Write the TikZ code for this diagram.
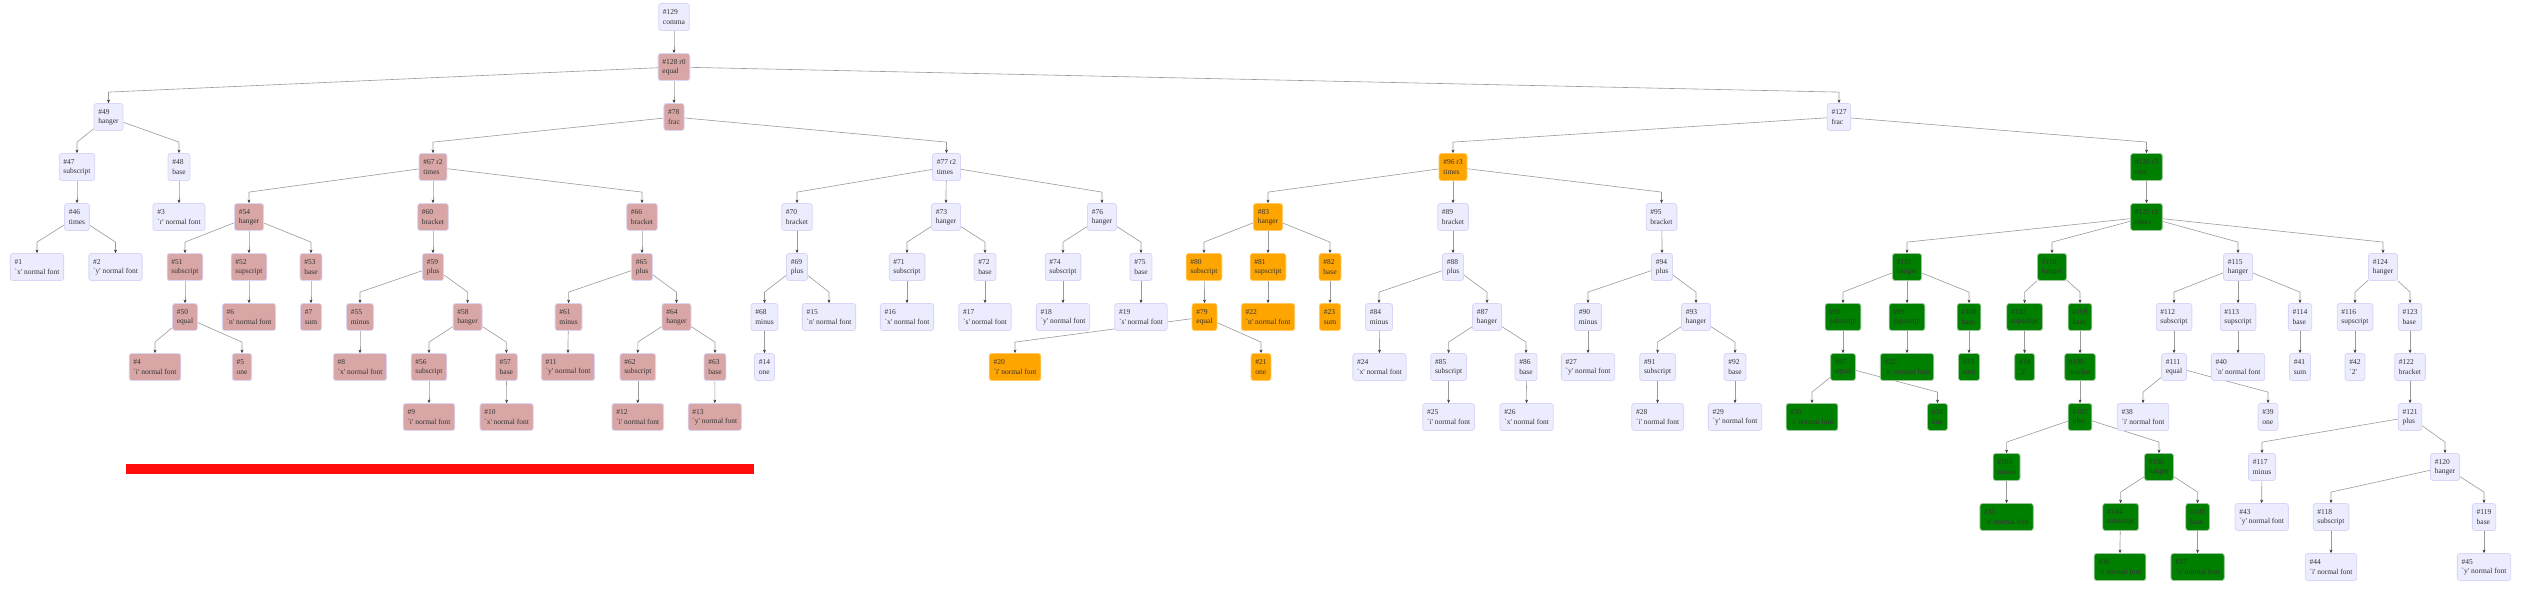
\documentclass[tikz,border=0pt]{standalone}
\usepackage{fontspec}
\setmainfont{Liberation Serif}
\usetikzlibrary{arrows.meta, calc, backgrounds}
\definecolor{inktext}{HTML}{333333}
\definecolor{boxlit}{HTML}{ECECFF}
\definecolor{boxred}{HTML}{D9A6A6}
\definecolor{boxorange}{HTML}{FFA500}
\definecolor{boxgreen}{HTML}{008000}
\definecolor{boxline}{HTML}{DAD5F7}
\definecolor{greenline}{HTML}{9CC79C}
\definecolor{wire}{HTML}{9A9A9A}
\definecolor{barred}{HTML}{FF0D0D}
\newcommand{\tick}[1]{\textasciigrave#1\textquotesingle}
\newcommand{\tnode}[5]{%
  \node[#4] (n#1) at (#2,{17+50*#3}) {#5};}
\newcommand{\link}[2]{%
  \draw[wireline] (n#1) -- ($(n#2.north)+(0,-11)$) -- (n#2.north);}
\tikzset{
  tbox/.style={draw=boxline, line width=0.8pt, rounded corners=2.5pt,
    align=left, inner xsep=4.3pt, inner ysep=2pt, minimum height=27pt,
    text=inktext, font=\fontsize{7.5}{9.3}\selectfont},
  litbox/.style={tbox, fill=boxlit},
  redbox/.style={tbox, fill=boxred},
  orabox/.style={tbox, fill=boxorange, draw=boxorange!60},
  grnbox/.style={tbox, fill=boxgreen, draw=greenline},
  wireline/.style={wire, line width=0.6pt, -{Stealth[length=3.5pt, width=3pt, inktext]}}
}

\begin{document}
\begin{tikzpicture}[x=1pt, y=-1pt]
  \useasboundingbox (0,0) rectangle (2527,597);
  % rows 0--2
  \tnode{129}{674}{0}{litbox}{\#129\\comma}
  \tnode{128}{674}{1}{redbox}{\#128 r0\\equal}
  \tnode{49}{108.5}{2}{litbox}{\#49\\hanger}
  \tnode{78}{674}{2}{redbox}{\#78\\frac}
  \tnode{127}{1839}{2}{litbox}{\#127\\frac}
  % row 3
  \tnode{47}{77}{3}{litbox}{\#47\\subscript}
  \tnode{48}{179}{3}{litbox}{\#48\\base}
  \tnode{67}{433}{3}{redbox}{\#67 r2\\times}
  \tnode{77}{946.5}{3}{litbox}{\#77 r2\\times}
  \tnode{96}{1453}{3}{orabox}{\#96 r3\\times}
  \tnode{126}{2146.5}{3}{grnbox}{\#126 r3\\root}
  % row 4
  \tnode{46}{77}{4}{litbox}{\#46\\times}
  \tnode{3}{179}{4}{litbox}{\#3\\\tick{r} normal font}
  \tnode{54}{249}{4}{redbox}{\#54\\hanger}
  \tnode{60}{433}{4}{redbox}{\#60\\bracket}
  \tnode{66}{642}{4}{redbox}{\#66\\bracket}
  \tnode{70}{797}{4}{litbox}{\#70\\bracket}
  \tnode{73}{946}{4}{litbox}{\#73\\hanger}
  \tnode{76}{1102}{4}{litbox}{\#76\\hanger}
  \tnode{83}{1268}{4}{orabox}{\#83\\hanger}
  \tnode{89}{1453}{4}{litbox}{\#89\\bracket}
  \tnode{95}{1661.5}{4}{litbox}{\#95\\bracket}
  \tnode{125}{2146.5}{4}{grnbox}{\#125 r2\\times}
  % row 5
  \tnode{1}{37}{5}{litbox}{\#1\\\tick{x} normal font}
  \tnode{2}{115.5}{5}{litbox}{\#2\\\tick{y} normal font}
  \tnode{51}{185}{5}{redbox}{\#51\\subscript}
  \tnode{52}{249}{5}{redbox}{\#52\\supscript}
  \tnode{53}{311}{5}{redbox}{\#53\\base}
  \tnode{59}{433}{5}{redbox}{\#59\\plus}
  \tnode{65}{642}{5}{redbox}{\#65\\plus}
  \tnode{69}{797}{5}{litbox}{\#69\\plus}
  \tnode{71}{907}{5}{litbox}{\#71\\subscript}
  \tnode{72}{985}{5}{litbox}{\#72\\base}
  \tnode{74}{1063}{5}{litbox}{\#74\\subscript}
  \tnode{75}{1141}{5}{litbox}{\#75\\base}
  \tnode{80}{1204}{5}{orabox}{\#80\\subscript}
  \tnode{81}{1268}{5}{orabox}{\#81\\supscript}
  \tnode{82}{1330}{5}{orabox}{\#82\\base}
  \tnode{88}{1453}{5}{litbox}{\#88\\plus}
  \tnode{94}{1662}{5}{litbox}{\#94\\plus}
  \tnode{101}{1907}{5}{grnbox}{\#101\\hanger}
  \tnode{110}{2052}{5}{grnbox}{\#110\\hanger}
  \tnode{115}{2238}{5}{litbox}{\#115\\hanger}
  \tnode{124}{2383}{5}{litbox}{\#124\\hanger}
  % row 6
  \tnode{50}{185}{6}{redbox}{\#50\\equal}
  \tnode{6}{249}{6}{redbox}{\#6\\\tick{n} normal font}
  \tnode{7}{311}{6}{redbox}{\#7\\sum}
  \tnode{55}{360}{6}{redbox}{\#55\\minus}
  \tnode{58}{467.6}{6}{redbox}{\#58\\hanger}
  \tnode{61}{568.6}{6}{redbox}{\#61\\minus}
  \tnode{64}{676.5}{6}{redbox}{\#64\\hanger}
  \tnode{68}{764.5}{6}{litbox}{\#68\\minus}
  \tnode{15}{829}{6}{litbox}{\#15\\\tick{n} normal font}
  \tnode{16}{907}{6}{litbox}{\#16\\\tick{x} normal font}
  \tnode{17}{985}{6}{litbox}{\#17\\\tick{s} normal font}
  \tnode{18}{1063}{6}{litbox}{\#18\\\tick{y} normal font}
  \tnode{19}{1141}{6}{litbox}{\#19\\\tick{s} normal font}
  \tnode{79}{1204.5}{6}{orabox}{\#79\\equal}
  \tnode{22}{1268}{6}{orabox}{\#22\\\tick{n} normal font}
  \tnode{23}{1330}{6}{orabox}{\#23\\sum}
  \tnode{84}{1379}{6}{litbox}{\#84\\minus}
  \tnode{87}{1487}{6}{litbox}{\#87\\hanger}
  \tnode{90}{1588}{6}{litbox}{\#90\\minus}
  \tnode{93}{1696}{6}{litbox}{\#93\\hanger}
  \tnode{98}{1843}{6}{grnbox}{\#98\\subscript}
  \tnode{99}{1907}{6}{grnbox}{\#99\\supscript}
  \tnode{100}{1969}{6}{grnbox}{\#100\\base}
  \tnode{102}{2024.6}{6}{grnbox}{\#102\\supscript}
  \tnode{109}{2080}{6}{grnbox}{\#109\\base}
  \tnode{112}{2174}{6}{litbox}{\#112\\subscript}
  \tnode{113}{2238}{6}{litbox}{\#113\\supscript}
  \tnode{114}{2300}{6}{litbox}{\#114\\base}
  \tnode{116}{2355}{6}{litbox}{\#116\\supscript}
  \tnode{123}{2410}{6}{litbox}{\#123\\base}
  % row 7
  \tnode{4}{155}{7}{redbox}{\#4\\\tick{i} normal font}
  \tnode{5}{242}{7}{redbox}{\#5\\one}
  \tnode{8}{360}{7}{redbox}{\#8\\\tick{x} normal font}
  \tnode{56}{429}{7}{redbox}{\#56\\subscript}
  \tnode{57}{506.4}{7}{redbox}{\#57\\base}
  \tnode{11}{568}{7}{redbox}{\#11\\\tick{y} normal font}
  \tnode{62}{637.8}{7}{redbox}{\#62\\subscript}
  \tnode{63}{715}{7}{redbox}{\#63\\base}
  \tnode{14}{764.5}{7}{litbox}{\#14\\one}
  \tnode{20}{1015}{7}{orabox}{\#20\\\tick{i} normal font}
  \tnode{21}{1261}{7}{orabox}{\#21\\one}
  \tnode{24}{1379.5}{7}{litbox}{\#24\\\tick{x} normal font}
  \tnode{85}{1448.6}{7}{litbox}{\#85\\subscript}
  \tnode{86}{1526}{7}{litbox}{\#86\\base}
  \tnode{27}{1588}{7}{litbox}{\#27\\\tick{y} normal font}
  \tnode{91}{1657.6}{7}{litbox}{\#91\\subscript}
  \tnode{92}{1735}{7}{litbox}{\#92\\base}
  \tnode{97}{1843}{7}{grnbox}{\#97\\equal}
  \tnode{32}{1907}{7}{grnbox}{\#32\\\tick{n} normal font}
  \tnode{33}{1969}{7}{grnbox}{\#33\\sum}
  \tnode{34}{2024.6}{7}{grnbox}{\#34\\\tick{2}}
  \tnode{108}{2080}{7}{grnbox}{\#108\\bracket}
  \tnode{111}{2174}{7}{litbox}{\#111\\equal}
  \tnode{40}{2238}{7}{litbox}{\#40\\\tick{n} normal font}
  \tnode{41}{2300}{7}{litbox}{\#41\\sum}
  \tnode{42}{2355}{7}{litbox}{\#42\\\tick{2}}
  \tnode{122}{2410}{7}{litbox}{\#122\\bracket}
  % row 8
  \tnode{9}{429}{8}{redbox}{\#9\\\tick{i} normal font}
  \tnode{10}{506.6}{8}{redbox}{\#10\\\tick{x} normal font}
  \tnode{12}{637.8}{8}{redbox}{\#12\\\tick{i} normal font}
  \tnode{13}{714.8}{8}{redbox}{\#13\\\tick{y} normal font}
  \tnode{25}{1448.6}{8}{litbox}{\#25\\\tick{i} normal font}
  \tnode{26}{1526.6}{8}{litbox}{\#26\\\tick{x} normal font}
  \tnode{28}{1657.6}{8}{litbox}{\#28\\\tick{i} normal font}
  \tnode{29}{1735}{8}{litbox}{\#29\\\tick{y} normal font}
  \tnode{30}{1812}{8}{grnbox}{\#30\\\tick{i} normal font}
  \tnode{31}{1937.5}{8}{grnbox}{\#31\\one}
  \tnode{107}{2080}{8}{grnbox}{\#107\\plus}
  \tnode{38}{2143}{8}{litbox}{\#38\\\tick{i} normal font}
  \tnode{39}{2268}{8}{litbox}{\#39\\one}
  \tnode{121}{2410}{8}{litbox}{\#121\\plus}
  % rows 9--11
  \tnode{103}{2006.6}{9}{grnbox}{\#103\\minus}
  \tnode{106}{2159}{9}{grnbox}{\#106\\hanger}
  \tnode{117}{2262}{9}{litbox}{\#117\\minus}
  \tnode{120}{2445}{9}{litbox}{\#120\\hanger}
  \tnode{35}{2006.6}{10}{grnbox}{\#35\\\tick{x} normal font}
  \tnode{104}{2120.6}{10}{grnbox}{\#104\\subscript}
  \tnode{105}{2197.6}{10}{grnbox}{\#105\\base}
  \tnode{43}{2261.7}{10}{litbox}{\#43\\\tick{y} normal font}
  \tnode{118}{2331}{10}{litbox}{\#118\\subscript}
  \tnode{119}{2484}{10}{litbox}{\#119\\base}
  \tnode{36}{2120}{11}{grnbox}{\#36\\\tick{i} normal font}
  \tnode{37}{2197.6}{11}{grnbox}{\#37\\\tick{x} normal font}
  \tnode{44}{2331}{11}{litbox}{\#44\\\tick{i} normal font}
  \tnode{45}{2484}{11}{litbox}{\#45\\\tick{y} normal font}

  % red marker bar
  \fill[barred] (126,464) rectangle (754,474);

  \begin{scope}[on background layer]
    \link{129}{128}
    \link{128}{49} \link{128}{78} \link{128}{127}
    \link{49}{47} \link{49}{48}
    \link{47}{46} \link{46}{1} \link{46}{2}
    \link{48}{3}
    \link{78}{67} \link{78}{77}
    \link{67}{54} \link{67}{60} \link{67}{66}
    \link{54}{51} \link{54}{52} \link{54}{53}
    \link{51}{50} \link{50}{4} \link{50}{5}
    \link{52}{6} \link{53}{7}
    \link{60}{59} \link{59}{55} \link{59}{58}
    \link{55}{8} \link{58}{56} \link{58}{57}
    \link{56}{9} \link{57}{10}
    \link{66}{65} \link{65}{61} \link{65}{64}
    \link{61}{11} \link{64}{62} \link{64}{63}
    \link{62}{12} \link{63}{13}
    \link{77}{70} \link{77}{73} \link{77}{76}
    \link{70}{69} \link{69}{68} \link{69}{15} \link{68}{14}
    \link{73}{71} \link{73}{72} \link{71}{16} \link{72}{17}
    \link{76}{74} \link{76}{75} \link{74}{18} \link{75}{19}
    \link{127}{96} \link{127}{126}
    \link{96}{83} \link{96}{89} \link{96}{95}
    \link{83}{80} \link{83}{81} \link{83}{82}
    \link{80}{79} \link{79}{20} \link{79}{21}
    \link{81}{22} \link{82}{23}
    \link{89}{88} \link{88}{84} \link{88}{87}
    \link{84}{24} \link{87}{85} \link{87}{86}
    \link{85}{25} \link{86}{26}
    \link{95}{94} \link{94}{90} \link{94}{93}
    \link{90}{27} \link{93}{91} \link{93}{92}
    \link{91}{28} \link{92}{29}
    \link{126}{125}
    \link{125}{101} \link{125}{110} \link{125}{115} \link{125}{124}
    \link{101}{98} \link{101}{99} \link{101}{100}
    \link{98}{97} \link{97}{30} \link{97}{31}
    \link{99}{32} \link{100}{33}
    \link{110}{102} \link{110}{109} \link{102}{34}
    \link{109}{108} \link{108}{107}
    \link{107}{103} \link{107}{106} \link{103}{35}
    \link{106}{104} \link{106}{105} \link{104}{36} \link{105}{37}
    \link{115}{112} \link{115}{113} \link{115}{114}
    \link{112}{111} \link{111}{38} \link{111}{39}
    \link{113}{40} \link{114}{41}
    \link{124}{116} \link{124}{123} \link{116}{42}
    \link{123}{122} \link{122}{121}
    \link{121}{117} \link{121}{120} \link{117}{43}
    \link{120}{118} \link{120}{119} \link{118}{44} \link{119}{45}
  \end{scope}
\end{tikzpicture}
\end{document}
